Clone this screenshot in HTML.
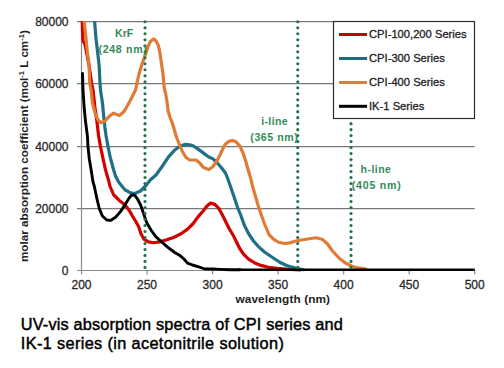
<!DOCTYPE html>
<html><head><meta charset="utf-8"><style>
html,body{margin:0;padding:0;background:#fff;width:504px;height:368px;overflow:hidden}
svg{display:block}
text{font-family:"Liberation Sans",sans-serif}
.g{stroke:#7a7a7a;stroke-width:1.3}
.ax{stroke:#8a8a8a;stroke-width:1.2}
.tk{font-size:12px;fill:#2a2a2a;stroke:#2a2a2a;stroke-width:0.3px}
.ttl{font-size:11.8px;font-weight:bold;fill:#222}
.c{fill:none;stroke-width:3.2;stroke-linejoin:round;stroke-linecap:round}
.ann{font-size:10.6px;font-weight:bold;fill:#338a5a}
.lg{font-size:11.2px;fill:#222;stroke:#222;stroke-width:0.3px}
.cap{font-size:16.3px;fill:#000;stroke:#000;stroke-width:0.45px}
</style></head><body>
<svg width="504" height="368" viewBox="0 0 504 368">
<rect width="504" height="368" fill="#fff"/>
<line x1="77" y1="21.6" x2="474.7" y2="21.6" class="g"/><line x1="77" y1="83.7" x2="474.7" y2="83.7" class="g"/><line x1="77" y1="146.6" x2="474.7" y2="146.6" class="g"/><line x1="77" y1="208.6" x2="474.7" y2="208.6" class="g"/>
<line x1="81.5" y1="21" x2="81.5" y2="270.5" class="ax"/>
<line x1="77" y1="270.5" x2="474.7" y2="270.5" class="ax"/>
<line x1="81.5" y1="270" x2="81.5" y2="274.5" class="ax"/><line x1="147.033" y1="270" x2="147.033" y2="274.5" class="ax"/><line x1="212.567" y1="270" x2="212.567" y2="274.5" class="ax"/><line x1="278.1" y1="270" x2="278.1" y2="274.5" class="ax"/><line x1="343.633" y1="270" x2="343.633" y2="274.5" class="ax"/><line x1="409.167" y1="270" x2="409.167" y2="274.5" class="ax"/><line x1="474.7" y1="270" x2="474.7" y2="274.5" class="ax"/><text x="68.5" y="25.6" class="tk" text-anchor="end">80000</text><text x="68.5" y="87.7" class="tk" text-anchor="end">60000</text><text x="68.5" y="150.6" class="tk" text-anchor="end">40000</text><text x="68.5" y="212.6" class="tk" text-anchor="end">20000</text><text x="68.5" y="274.5" class="tk" text-anchor="end">0</text><text x="81.5" y="289.3" class="tk" text-anchor="middle">200</text><text x="147.033" y="289.3" class="tk" text-anchor="middle">250</text><text x="212.567" y="289.3" class="tk" text-anchor="middle">300</text><text x="278.1" y="289.3" class="tk" text-anchor="middle">350</text><text x="343.633" y="289.3" class="tk" text-anchor="middle">400</text><text x="409.167" y="289.3" class="tk" text-anchor="middle">450</text><text x="474.7" y="289.3" class="tk" text-anchor="middle">500</text>
<defs><clipPath id="pc"><rect x="78" y="21" width="400" height="252"/></clipPath></defs>
<g clip-path="url(#pc)">
<polyline class="c" stroke="#d20000" points="82.25,20.5 82.5,30 83,41 84.75,43.5 86,50 87.3,56.25 89,65 91.6,83 93,90 94.9,107.5 96.75,120 98.6,136 100.5,146.6 103,158.5 105.5,169.75 109,182 109.9,186 113.6,194.75 119.25,200.4 124.9,204.75 129.25,210.4 132.4,216 136.1,222 138.5,226.25 141,233.75 144.1,239.4 148.5,241.9 153.5,242.75 159.75,241.9 166,240 173.5,237.5 181,233.75 187.25,229.4 193,223.75 198,216.9 203,211.25 206.75,206.25 210.5,203.1 214.9,204.4 218.6,208.1 221.75,213.75 225.5,221.25 229.25,228.75 233.6,236 236,241 239.75,248.5 243.5,254.1 248.5,259.1 254.75,262.9 261,265.4 268.5,267.25 277.25,268.25 283.5,268.75 290,269.5 300,270"/>
<polyline class="c" stroke="#1f6f87" points="94.5,20.5 96,38.75 97.5,51.25 99.1,65 100,83 100.5,90 102.4,102.5 103.6,115 104.9,127.5 106.1,136 108,146.6 110.5,158.5 113.6,169.75 115.5,176 118.6,182 124.9,189.75 130.5,192.9 134.9,193.5 140.5,191 145.5,186 150.5,179.75 156,175 162.25,166.25 168.5,156.9 174.75,150 179.75,146.25 184.75,144.4 189.75,144.75 193.5,146 198.5,149.4 203.5,153.1 208.75,157 213.1,158.9 217.5,163.25 221.9,168.25 225.6,173.25 227.5,178 230.5,186.5 233.75,196 237.5,207.25 240.6,214.75 244.25,225 248.5,233.5 253.5,241 258.5,246.6 264.75,252.25 272.25,257.25 279.75,262.25 287.25,265.75 294.75,267.9 303.5,269.75"/>
<polyline class="c" stroke="#e07b35" points="84.1,20.5 86,38.75 87.25,51.25 89.1,65 89.7,83 91.1,90 92.4,102.5 94.9,112.5 98,120 101.1,122.75 104.9,121.25 109.25,116.25 113.6,113.1 119.25,115.6 124.25,111.25 129.25,102.5 135.5,90 138.75,75 140.6,68.75 142.5,62.5 144.4,57.5 146.25,51.9 148.1,46.25 150.6,41.25 153.75,39 156.25,41.25 158.1,45 159.4,50 160.6,57.5 161.9,66.25 163.1,75 164.2,88 165.6,93.5 166.9,101 168.1,111 170,117.25 172.5,123.5 174.4,130 176.6,137.5 179.1,143.75 182.25,151.25 186,157.5 189.75,160 196,160 199.75,163.1 203.5,167.5 208.75,169.5 212.5,167 216.25,162 219.4,156.4 221.9,150.75 225,144.5 228.75,141.4 232.5,140.5 236.25,142 240,146.4 243.1,153.25 245.6,160.75 248.1,169.5 250.6,178 252.5,186 255,194.75 257.5,203.5 260,211 263.75,222 265.4,226 269.1,234.75 273.5,239.1 278.5,242.25 284.75,243.5 289.75,242.9 296,241 300,240.25 307.5,239 316.25,237.75 322.5,239.5 327.5,244 332.5,251 338.75,257.75 345,262.75 352.5,266.5 360,268.2 366,269"/>
<polyline class="c" stroke="#000" style="stroke-width:2.9px" points="82.5,73.5 83,90 84.25,108.75 85.5,121.25 87.4,136 88,146.6 89.25,158.5 91.1,169.75 93,182 94.25,186 96.75,197.9 99.25,208.5 102.4,216 106.75,220 110.5,220.4 115.5,217.25 120.5,211.6 125.5,204.1 128.5,199 131,195.6 133,194.8 135,195.6 137.5,199 140.5,204.75 143.6,213.5 146.6,222.5 151,230 156,236.9 161,241.25 167.25,246.9 174.75,252.5 180,255.6 183.75,258.75 187.5,263.1 192.5,265 198.75,266.9 205,269 212.5,269 220,269.4 230,269.75 240,269.75"/>
<line x1="238" y1="269.75" x2="474.7" y2="269.75" stroke="#000" stroke-width="2.3"/>
</g>
<g fill="#207545"><circle cx="145" cy="267.4" r="1.55"/><circle cx="145" cy="261.41" r="1.55"/><circle cx="145" cy="255.42" r="1.55"/><circle cx="145" cy="249.43" r="1.55"/><circle cx="145" cy="243.44" r="1.55"/><circle cx="145" cy="237.45" r="1.55"/><circle cx="145" cy="231.46" r="1.55"/><circle cx="145" cy="225.47" r="1.55"/><circle cx="145" cy="219.48" r="1.55"/><circle cx="145" cy="213.49" r="1.55"/><circle cx="145" cy="207.5" r="1.55"/><circle cx="145" cy="201.51" r="1.55"/><circle cx="145" cy="195.52" r="1.55"/><circle cx="145" cy="189.53" r="1.55"/><circle cx="145" cy="183.54" r="1.55"/><circle cx="145" cy="177.55" r="1.55"/><circle cx="145" cy="171.56" r="1.55"/><circle cx="145" cy="165.57" r="1.55"/><circle cx="145" cy="159.58" r="1.55"/><circle cx="145" cy="153.59" r="1.55"/><circle cx="145" cy="147.6" r="1.55"/><circle cx="145" cy="141.61" r="1.55"/><circle cx="145" cy="135.62" r="1.55"/><circle cx="145" cy="129.63" r="1.55"/><circle cx="145" cy="123.64" r="1.55"/><circle cx="145" cy="117.65" r="1.55"/><circle cx="145" cy="111.66" r="1.55"/><circle cx="145" cy="105.67" r="1.55"/><circle cx="145" cy="99.68" r="1.55"/><circle cx="145" cy="93.69" r="1.55"/><circle cx="145" cy="87.7" r="1.55"/><circle cx="145" cy="81.71" r="1.55"/><circle cx="145" cy="75.72" r="1.55"/><circle cx="145" cy="69.73" r="1.55"/><circle cx="145" cy="63.74" r="1.55"/><circle cx="145" cy="57.75" r="1.55"/><circle cx="145" cy="51.76" r="1.55"/><circle cx="145" cy="45.77" r="1.55"/><circle cx="145" cy="39.78" r="1.55"/><circle cx="145" cy="33.79" r="1.55"/><circle cx="145" cy="27.8" r="1.55"/><circle cx="145" cy="21.81" r="1.55"/><circle cx="297.75" cy="267.4" r="1.55"/><circle cx="297.75" cy="261.41" r="1.55"/><circle cx="297.75" cy="255.42" r="1.55"/><circle cx="297.75" cy="249.43" r="1.55"/><circle cx="297.75" cy="243.44" r="1.55"/><circle cx="297.75" cy="237.45" r="1.55"/><circle cx="297.75" cy="231.46" r="1.55"/><circle cx="297.75" cy="225.47" r="1.55"/><circle cx="297.75" cy="219.48" r="1.55"/><circle cx="297.75" cy="213.49" r="1.55"/><circle cx="297.75" cy="207.5" r="1.55"/><circle cx="297.75" cy="201.51" r="1.55"/><circle cx="297.75" cy="195.52" r="1.55"/><circle cx="297.75" cy="189.53" r="1.55"/><circle cx="297.75" cy="183.54" r="1.55"/><circle cx="297.75" cy="177.55" r="1.55"/><circle cx="297.75" cy="171.56" r="1.55"/><circle cx="297.75" cy="165.57" r="1.55"/><circle cx="297.75" cy="159.58" r="1.55"/><circle cx="297.75" cy="153.59" r="1.55"/><circle cx="297.75" cy="147.6" r="1.55"/><circle cx="297.75" cy="141.61" r="1.55"/><circle cx="297.75" cy="135.62" r="1.55"/><circle cx="297.75" cy="129.63" r="1.55"/><circle cx="297.75" cy="123.64" r="1.55"/><circle cx="297.75" cy="117.65" r="1.55"/><circle cx="297.75" cy="111.66" r="1.55"/><circle cx="297.75" cy="105.67" r="1.55"/><circle cx="297.75" cy="99.68" r="1.55"/><circle cx="297.75" cy="93.69" r="1.55"/><circle cx="297.75" cy="87.7" r="1.55"/><circle cx="297.75" cy="81.71" r="1.55"/><circle cx="297.75" cy="75.72" r="1.55"/><circle cx="297.75" cy="69.73" r="1.55"/><circle cx="297.75" cy="63.74" r="1.55"/><circle cx="297.75" cy="57.75" r="1.55"/><circle cx="297.75" cy="51.76" r="1.55"/><circle cx="297.75" cy="45.77" r="1.55"/><circle cx="297.75" cy="39.78" r="1.55"/><circle cx="297.75" cy="33.79" r="1.55"/><circle cx="297.75" cy="27.8" r="1.55"/><circle cx="297.75" cy="21.81" r="1.55"/><circle cx="351" cy="267.4" r="1.55"/><circle cx="351" cy="261.41" r="1.55"/><circle cx="351" cy="255.42" r="1.55"/><circle cx="351" cy="249.43" r="1.55"/><circle cx="351" cy="243.44" r="1.55"/><circle cx="351" cy="237.45" r="1.55"/><circle cx="351" cy="231.46" r="1.55"/><circle cx="351" cy="225.47" r="1.55"/><circle cx="351" cy="219.48" r="1.55"/><circle cx="351" cy="213.49" r="1.55"/><circle cx="351" cy="207.5" r="1.55"/><circle cx="351" cy="201.51" r="1.55"/><circle cx="351" cy="195.52" r="1.55"/><circle cx="351" cy="189.53" r="1.55"/><circle cx="351" cy="183.54" r="1.55"/><circle cx="351" cy="177.55" r="1.55"/><circle cx="351" cy="171.56" r="1.55"/><circle cx="351" cy="165.57" r="1.55"/><circle cx="351" cy="159.58" r="1.55"/><circle cx="351" cy="153.59" r="1.55"/><circle cx="351" cy="147.6" r="1.55"/><circle cx="351" cy="141.61" r="1.55"/><circle cx="351" cy="135.62" r="1.55"/><circle cx="351" cy="129.63" r="1.55"/><circle cx="351" cy="123.64" r="1.55"/></g>
<text class="ttl" style="font-size:11.65px" transform="translate(28.3,262) rotate(-90)">molar absorption coefficient (mol<tspan dy="-4" font-size="7.5px">-1</tspan><tspan dy="4"> L cm</tspan><tspan dy="-4" font-size="7.5px">-1</tspan><tspan dy="4">)</tspan></text>
<text class="ttl" x="235.5" y="302.5" textLength="94.5" lengthAdjust="spacing">wavelength (nm)</text>
<text class="ann" x="115" y="37.1">KrF</text>
<text class="ann" x="98.4" y="52.6" textLength="48.5" lengthAdjust="spacing">(248 nm)</text>
<text class="ann" x="261.2" y="125.2" textLength="26.5" lengthAdjust="spacing">i-line</text>
<text class="ann" x="250.3" y="140.8" textLength="47.5" lengthAdjust="spacing">(365 nm)</text>
<text class="ann" x="360.5" y="173" textLength="30.5" lengthAdjust="spacing">h-line</text>
<text class="ann" x="351.8" y="188.6" textLength="49" lengthAdjust="spacing">(405 nm)</text>
<rect x="333.5" y="21.5" width="141" height="97" fill="#fff" stroke="#2e2e2e" stroke-width="1.2"/>
<line x1="339" y1="34.5" x2="367" y2="34.5" stroke="#b00c0c" stroke-width="3"/>
<line x1="339" y1="58.5" x2="367" y2="58.5" stroke="#1f6a80" stroke-width="3"/>
<line x1="339" y1="82.5" x2="367" y2="82.5" stroke="#d9803a" stroke-width="3"/>
<line x1="339" y1="106.3" x2="367" y2="106.3" stroke="#000" stroke-width="3"/>
<text class="lg" x="369" y="38">CPI-100,200 Series</text>
<text class="lg" x="369" y="62">CPI-300 Series</text>
<text class="lg" x="369" y="86">CPI-400 Series</text>
<text class="lg" x="369" y="109.8">IK-1 Series</text>
<text class="cap" x="20.8" y="330" textLength="322" lengthAdjust="spacing">UV-vis absorption spectra of CPI series and</text>
<text class="cap" x="20.8" y="348.8" textLength="263" lengthAdjust="spacing">IK-1 series (in acetonitrile solution)</text>
</svg>
</body></html>
